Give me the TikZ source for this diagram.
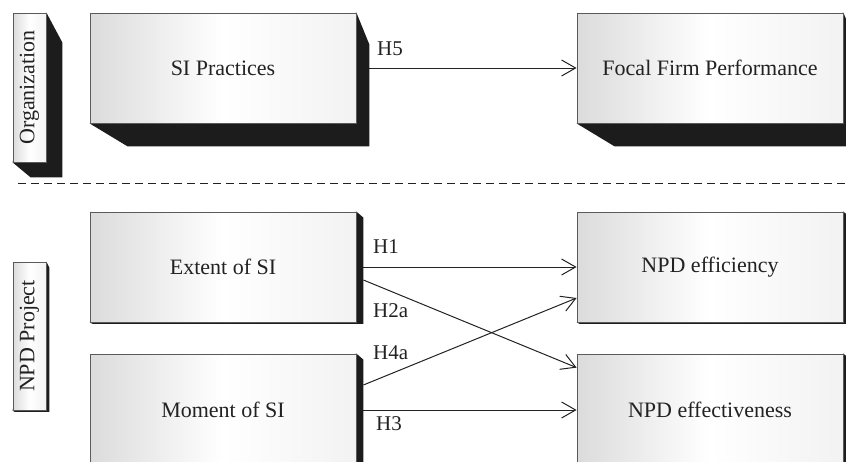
\documentclass[tikz,border=0pt]{standalone}
\usepackage{fontspec}
\setmainfont{Liberation Serif}
\usetikzlibrary{arrows.meta}
\pgfdeclarelayer{bg}
\pgfsetlayers{bg,main}
\definecolor{shadowc}{HTML}{1C1C1C}
\definecolor{edgec}{HTML}{5A5A5A}
\definecolor{textc}{HTML}{222222}
\tikzset{
  front/.style={draw=edgec, line width=0.8pt, left color=black!14, right color=black!5, middle color=white,
    inner sep=0pt, text=textc, font=\fontsize{22}{26}\selectfont},
  bigbox/.style={front, minimum width=266pt, minimum height=110pt},
  sidebox/.style={front, minimum width=33pt},
  lab/.style={inner sep=0pt, text=textc, font=\fontsize{21}{25}\selectfont, anchor=base west},
  conn/.style={draw=textc, line width=1pt, -{Straight Barb[length=14pt,width=16pt,line width=1pt]}},
  shade3d/.style={fill=shadowc}
}
\begin{document}
\begin{tikzpicture}[x=1pt,y=-1pt]
\useasboundingbox (0,0) rectangle (846,461);
\clip (0,0) rectangle (846,461);

% organization level
\node[sidebox, minimum height=149pt] (org) at (29.5,87.5) {\rotatebox{90}{Organization}};
\node[bigbox] (sip) at (223,68) {SI Practices};
\node[bigbox] (ffp) at (710,68) {Focal Firm Performance};

% dashed separator
\coordinate (dl) at (18,183);
\coordinate (dr) at (846,183);
\draw[textc, line width=1pt, dash pattern=on 8pt off 5pt] (dl) -- (dr);

% project level
\node[sidebox, minimum height=148pt] (npdp) at (29.5,336) {\rotatebox{90}{NPD Project}};
\node[bigbox] (ext) at (223,267) {Extent of SI};
\node[bigbox, minimum height=112pt] (mom) at (223,410) {Moment of SI};
\node[bigbox] (nef) at (710,267) {NPD efficiency};
\node[bigbox, minimum height=112pt] (nfx) at (710,410) {NPD effectiveness};

% 3D shadows
\begin{pgfonlayer}{bg}
\fill[shade3d] (org.north east) -- ++(16,30) -- ([shift={(16,15)}]org.south east)
  -- ([shift={(18,15)}]org.south west) -- (org.south west) -- cycle;
\fill[shade3d] (sip.north east) -- ++(13,32) -- ([shift={(13,23)}]sip.south east)
  -- ([shift={(38,23)}]sip.south west) -- (sip.south west) -- cycle;
\fill[shade3d] (ffp.north east) -- ++(13,32) -- ([shift={(13,23)}]ffp.south east)
  -- ([shift={(38,23)}]ffp.south west) -- (ffp.south west) -- cycle;
\fill[shade3d] (npdp.north east) -- ++(3,6) -- ([shift={(3,1.5)}]npdp.south east)
  -- ([shift={(2,1.5)}]npdp.south west) -- (npdp.south west) -- cycle;
\foreach \b in {ext,mom,nef,nfx}{
  \fill[shade3d] (\b.north east) -- ++(7,6) -- ([shift={(7,1.5)}]\b.south east)
    -- ([shift={(3,1.5)}]\b.south west) -- (\b.south west) -- cycle;
}
\end{pgfonlayer}

% connectors
\draw[conn] ([xshift=13pt]sip.east) -- (ffp.west);
\draw[conn] ([xshift=7pt]ext.east) -- (nef.west);
\draw[conn] ([xshift=7pt,yshift=-13pt]ext.east) -- ([yshift=-14pt]nfx.north west);
\draw[conn] ([xshift=7pt,yshift=25pt]mom.east) -- ([yshift=-31pt]nef.west);
\draw[conn] ([xshift=7pt]mom.east) -- (nfx.west);

% labels
\node[lab] (h5) at (377,55) {H5};
\node[lab] (h1) at (373,253) {H1};
\node[lab] (h2a) at (373,317) {H2a};
\node[lab] (h4a) at (373,359) {H4a};
\node[lab] (h3) at (376,430) {H3};
\end{tikzpicture}
\end{document}
